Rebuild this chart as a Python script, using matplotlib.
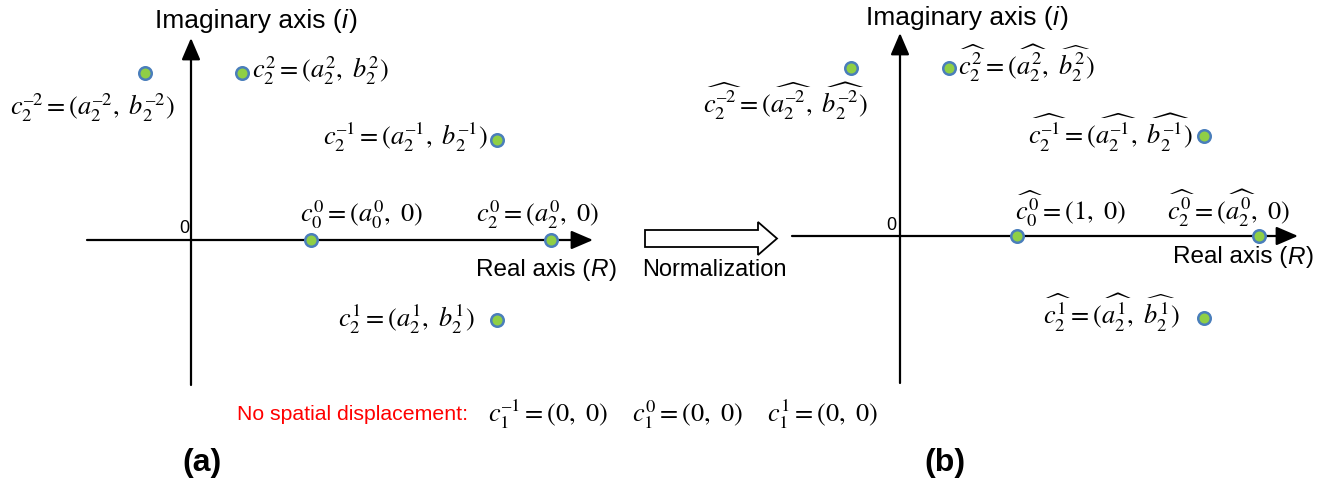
import matplotlib
matplotlib.use('Agg')
import matplotlib.pyplot as plt
from matplotlib.patches import Polygon

plt.rcParams['mathtext.fontset'] = 'stix'
plt.rcParams['font.family'] = ['Liberation Sans', 'DejaVu Sans']

M = '\u2013'  # short minus used in superscripts

# ---------------- data (diagram units, origin at axes crossing, y up) -------------
pts_a_x = [-46, 51, 306, 120, 360, 306]
pts_a_y = [167, 167, 100, 0, 0, -80]
labels_a = [r'$c_2^{%s2}=(a_2^{%s2},\ b_2^{%s2})$' % (M, M, M),
            r'$c_2^{2}=(a_2^{2},\ b_2^{2})$',
            r'$c_2^{%s1}=(a_2^{%s1},\ b_2^{%s1})$' % (M, M, M),
            r'$c_0^{0}=(a_0^{0},\ 0)$',
            r'$c_2^{0}=(a_2^{0},\ 0)$',
            r'$c_2^{1}=(a_2^{1},\ b_2^{1})$']

pts_b_x = [-49, 49, 304, 117, 359, 304]
pts_b_y = [168, 168, 100, 0, 0, -82]
labels_b = [r'$\widehat{c_2^{%s2}}=(\widehat{a_2^{%s2}},\ \widehat{b_2^{%s2}})$' % (M, M, M),
            r'$\widehat{c_2^{2}}=(\widehat{a_2^{2}},\ \widehat{b_2^{2}})$',
            r'$\widehat{c_2^{%s1}}=(\widehat{a_2^{%s1}},\ \widehat{b_2^{%s1}})$' % (M, M, M),
            r'$\widehat{c_0^{0}}=(1,\ 0)$',
            r'$\widehat{c_2^{0}}=(\widehat{a_2^{0}},\ 0)$',
            r'$\widehat{c_2^{1}}=(\widehat{a_2^{1}},\ \widehat{b_2^{1}})$']

zero_labels = [r'$c_1^{%s1}=(0,\ 0)$' % M, r'$c_1^{0}=(0,\ 0)$', r'$c_1^{1}=(0,\ 0)$']

# ---------------- layout -------------
W, H = 1319, 479
origin_a = (191, 240)
origin_b = (900, 236)
# label anchor (x, baseline y, ha) in diagram units
lab_pos_a = [(-16, 125, 'right'), (61, 162, 'left'), (297, 95, 'right'),
             (109, 18, 'left'), (285, 18, 'left'), (284, -87, 'right')]
lab_pos_b = [(-32, 123, 'right'), (58, 161, 'left'), (293, 91, 'right'),
             (115, 16, 'left'), (267, 16, 'left'), (280, -89, 'right')]

MATH_FS = 19
SANS_FS = 17.5
IMAG_FS = 19
FILL = '#8fcf45'
EDGE = '#4a7ebb'

fig = plt.figure(figsize=(W / 100, H / 100), dpi=100)
base = fig.add_axes([0, 0, 1, 1])
base.set_xlim(0, W)
base.set_ylim(H, 0)
base.axis('off')


def chain_text(ax, x, y, parts, fs):
    """Draw consecutive text parts [(str, style)] left to right."""
    for s, style in parts:
        t = ax.text(x, y, s, fontsize=fs, style=style, ha='left', va='center')
        fig.canvas.draw()
        bb = t.get_window_extent()
        x = ax.transData.inverted().transform((bb.x1, 0))[0] + (1 if style == 'italic' else 0)


def panel(origin, xs, ys, labels, lab_pos, xneg, xpos, yneg, ypos, imag_xy, real_xy, zero_xy):
    ox, oy = origin
    ax = fig.add_axes([0, 0, 1, 1])
    ax.set_xlim(-ox, W - ox)
    ax.set_ylim(-(H - oy), oy)
    ax.axis('off')
    ax.patch.set_alpha(0)
    ap = dict(arrowstyle='-|>,head_length=0.7,head_width=0.3', lw=1.6, color='black',
              mutation_scale=19, shrinkA=0, shrinkB=0)
    ax.annotate('', xy=(xpos, 0), xytext=(xneg, 0), arrowprops=ap)
    ax.annotate('', xy=(0, ypos), xytext=(0, yneg), arrowprops=ap)
    ax.plot(xs, ys, 'o', ms=9, mfc=FILL, mec=EDGE, mew=1.8, zorder=5, clip_on=False)
    for lab, (lx, ly, ha) in zip(labels, lab_pos):
        ax.text(lx, ly, lab, fontsize=MATH_FS, ha=ha, va='baseline')
    chain_text(ax, imag_xy[0], imag_xy[1],
               [('Imaginary axis (', 'normal'), ('i', 'italic'), (')', 'normal')], IMAG_FS)
    chain_text(ax, real_xy[0], real_xy[1],
               [('Real axis (', 'normal'), ('R', 'italic'), (')', 'normal')], SANS_FS)
    ax.text(zero_xy[0], zero_xy[1], '0', fontsize=13, ha='center', va='center')
    return ax


panel(origin_a, pts_a_x, pts_a_y, labels_a, lab_pos_a, -104, 402, -145, 202,
      (-36, 219), (285, -30), (-7, 12))
panel(origin_b, pts_b_x, pts_b_y, labels_b, lab_pos_b, -108, 398, -147, 203,
      (-34, 218), (273, -21), (-9, 11))

# normalization arrow (hollow)
arrow = Polygon([(645, 230), (758, 230), (758, 222), (777, 238.5), (758, 255),
                 (758, 247), (645, 247)], closed=True, fill=False, ec='black', lw=1.3)
base.add_patch(arrow)
base.text(714, 270, 'Normalization', fontsize=17, ha='center', va='center')

# no displacement line
base.text(237, 414, 'No spatial displacement:', fontsize=15.3, color='#ff0000', ha='left', va='center')
for lab, x in zip(zero_labels, [488, 632, 767]):
    base.text(x, 422, lab, fontsize=MATH_FS, ha='left', va='baseline')

base.text(202, 463, '(a)', fontsize=23, fontweight='bold', ha='center', va='center')
base.text(945, 463, '(b)', fontsize=23, fontweight='bold', ha='center', va='center')

fig.savefig('out.png', dpi=100)
